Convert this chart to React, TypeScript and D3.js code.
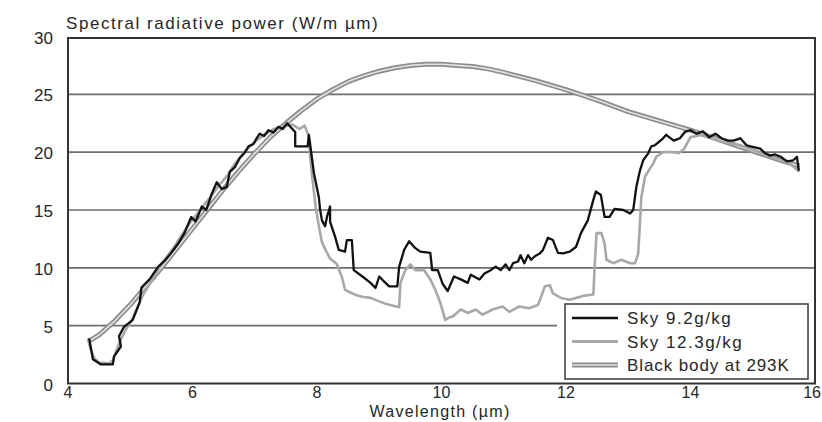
import React from 'react';
import * as d3 from 'd3';

type Pt = [number, number];

// Sky with 9.2 g/kg water vapour (black trace)
const sky92: Pt[] = [
  [4.34, 3.9], [4.4, 2.1], [4.53, 1.65], [4.72, 1.65], [4.74, 2.35], [4.85, 3.2], [4.82, 4.1],
  [4.9, 4.9], [5.04, 5.5], [5.15, 7.0], [5.18, 8.3], [5.31, 9.0], [5.45, 10.1], [5.55, 10.6],
  [5.66, 11.3], [5.77, 12.1], [5.87, 13.0], [5.98, 14.4], [6.05, 14.0], [6.15, 15.3], [6.22, 15.0],
  [6.31, 16.4], [6.39, 17.4], [6.47, 16.8], [6.55, 17.0], [6.6, 18.3], [6.68, 18.7], [6.76, 19.5],
  [6.83, 19.9], [6.9, 20.5], [6.98, 20.7], [7.03, 21.2], [7.08, 21.6], [7.15, 21.4], [7.22, 21.9],
  [7.3, 21.7], [7.38, 22.2], [7.45, 22.0], [7.52, 22.5], [7.65, 21.75], [7.65, 20.5], [7.85, 20.5],
  [7.87, 21.5], [7.95, 18.2], [8.03, 16.1], [8.05, 15.0], [8.08, 14.1], [8.13, 13.6], [8.16, 14.4],
  [8.21, 15.3], [8.21, 14.0], [8.29, 12.7], [8.35, 11.55], [8.45, 11.4], [8.48, 12.4], [8.56, 12.4],
  [8.59, 9.8], [8.73, 9.25], [8.86, 8.7], [8.94, 8.26], [9.0, 9.25], [9.08, 8.8], [9.16, 8.4],
  [9.29, 8.4], [9.32, 10.1], [9.4, 11.55], [9.48, 12.3], [9.58, 11.7], [9.66, 11.4], [9.82, 11.3],
  [9.85, 9.8], [9.94, 9.8], [10.02, 8.6], [10.1, 8.0], [10.2, 9.25], [10.31, 9.0], [10.42, 8.7],
  [10.47, 9.4], [10.61, 9.0], [10.69, 9.5], [10.79, 9.8], [10.87, 10.1], [10.95, 9.8], [11.03, 10.3],
  [11.09, 9.8], [11.15, 10.4], [11.23, 10.55], [11.27, 11.1], [11.33, 10.4], [11.39, 11.1],
  [11.44, 10.7], [11.5, 11.0], [11.58, 11.25], [11.63, 11.55], [11.71, 12.6], [11.79, 12.4],
  [11.87, 11.3], [11.95, 11.25], [12.06, 11.4], [12.16, 11.8], [12.24, 13.0], [12.35, 14.1],
  [12.44, 15.9], [12.48, 16.6], [12.56, 16.3], [12.62, 14.4], [12.7, 14.4], [12.78, 15.1],
  [12.92, 15.0], [13.03, 14.7], [13.08, 15.0], [13.13, 17.0], [13.19, 18.45], [13.24, 19.3],
  [13.32, 19.9], [13.37, 20.5], [13.43, 20.6], [13.56, 21.2], [13.61, 21.5], [13.73, 21.0],
  [13.83, 21.2], [13.91, 21.75], [14.0, 21.9], [14.1, 21.6], [14.2, 21.8], [14.3, 21.3], [14.4, 21.6],
  [14.5, 21.2], [14.6, 21.0], [14.69, 21.0], [14.8, 21.2], [14.9, 20.6], [14.96, 20.5], [15.05, 20.4],
  [15.12, 20.3], [15.2, 19.9], [15.28, 19.7], [15.36, 19.8], [15.45, 19.6], [15.55, 19.2],
  [15.65, 19.3], [15.71, 19.6], [15.74, 18.4],
];

// Sky with 12.3 g/kg water vapour (grey trace)
const sky123: Pt[] = [
  [4.32, 3.9], [4.36, 3.0], [4.42, 2.2], [4.5, 1.8], [4.58, 1.8], [4.65, 1.7], [4.72, 2.0],
  [4.78, 2.9], [4.84, 3.7], [4.93, 4.7], [5.02, 5.4], [5.1, 6.4], [5.2, 7.6], [5.3, 8.5],
  [5.42, 9.6], [5.55, 10.7], [5.68, 11.6], [5.8, 12.6], [5.92, 13.6], [6.05, 14.5], [6.18, 15.4],
  [6.3, 16.2], [6.42, 17.1], [6.55, 17.9], [6.68, 19.0], [6.8, 19.8], [6.92, 20.5], [7.05, 21.1],
  [7.18, 21.6], [7.3, 22.0], [7.45, 22.2], [7.6, 22.4], [7.72, 22.0], [7.8, 22.3], [7.86, 21.5],
  [7.92, 18.0], [7.98, 15.2], [8.03, 13.6], [8.08, 12.2], [8.15, 11.4], [8.21, 10.8], [8.32, 10.3],
  [8.4, 9.2], [8.45, 8.1], [8.56, 7.8], [8.65, 7.6], [8.73, 7.5], [8.86, 7.4], [9.0, 7.1],
  [9.1, 6.9], [9.16, 6.8], [9.32, 6.6], [9.34, 8.7], [9.42, 9.8], [9.5, 10.3], [9.58, 9.8],
  [9.72, 9.8], [9.82, 9.0], [9.9, 8.1], [9.98, 7.0], [10.06, 5.5], [10.12, 5.7], [10.18, 5.8],
  [10.31, 6.4], [10.42, 6.1], [10.55, 6.4], [10.66, 5.95], [10.82, 6.4], [10.98, 6.66],
  [11.09, 6.2], [11.25, 6.66], [11.41, 6.5], [11.55, 6.8], [11.6, 7.5], [11.66, 8.4], [11.74, 8.5],
  [11.79, 7.8], [11.92, 7.4], [12.06, 7.24], [12.16, 7.4], [12.3, 7.6], [12.44, 7.7], [12.46, 10.1],
  [12.49, 13.0], [12.57, 13.0], [12.62, 12.1], [12.65, 10.7], [12.76, 10.4], [12.89, 10.7],
  [13.03, 10.4], [13.11, 10.4], [13.16, 11.25], [13.19, 14.1], [13.21, 16.1], [13.27, 17.9],
  [13.35, 18.6], [13.4, 19.0], [13.45, 19.6], [13.56, 20.0], [13.73, 20.0], [13.81, 19.9],
  [13.9, 20.3], [14.0, 21.3], [14.2, 21.5], [14.5, 20.9], [14.8, 20.6], [15.1, 20.0], [15.4, 19.4],
  [15.6, 19.0], [15.75, 18.3],
];

// Black body at 293K
const blackBody: Pt[] = [
  [4.35, 3.7], [4.5, 4.2], [4.75, 5.4], [5.0, 6.8], [5.25, 8.4], [5.5, 10.0], [5.75, 11.7],
  [6.0, 13.4], [6.25, 15.1], [6.5, 16.8], [6.75, 18.4], [7.0, 19.9], [7.25, 21.3], [7.5, 22.5],
  [7.75, 23.6], [8.0, 24.6], [8.25, 25.4], [8.5, 26.1], [8.75, 26.6], [9.0, 27.0], [9.25, 27.3],
  [9.5, 27.5], [9.75, 27.6], [10.0, 27.6], [10.25, 27.5], [10.5, 27.4], [10.75, 27.2], [11.0, 26.9],
  [11.5, 26.2], [12.0, 25.4], [12.5, 24.5], [13.0, 23.5], [13.5, 22.7], [14.0, 21.9], [14.5, 21.0],
  [15.0, 20.1], [15.5, 19.2], [15.75, 18.8],
];

const xTicks = [4, 6, 8, 10, 12, 14, 16];
const yTicks = [0, 5, 10, 15, 20, 25, 30];
const gridValues = [5, 10, 15, 20, 25];
const legendLabels = ['Sky 9.2g/kg', 'Sky 12.3g/kg', 'Black body at 293K'];

const font = '"Liberation Sans", Arial, Helvetica, sans-serif';
const ink = '#262626';

export default function App() {
  const width = 822;
  const height = 422;
  const plot = { left: 68, right: 815, top: 36.5, bottom: 383.5 };

  const x = d3.scaleLinear().domain([4, 16]).range([plot.left, plot.right]);
  const y = d3.scaleLinear().domain([0, 30]).range([plot.bottom, plot.top]);

  const line = d3.line<Pt>()
    .x(d => x(d[0]))
    .y(d => y(d[1]))
    .curve(d3.curveLinear);

  const legend = { x: 565, y: 304, w: 243, h: 75 };
  const rowY = (i: number) => legend.y + 14 + i * 23.5;

  return (
    <svg
      width={width}
      height={height}
      style={{ position: 'absolute', left: 0, top: 0, background: '#fff', fontFamily: font }}
    >
      {/* title */}
      <text x={66} y={29} fontSize={17} fill={ink} letterSpacing={1.55}>
        Spectral radiative power (W/m µm)
      </text>

      {/* horizontal gridlines, the one at 5 stops before the legend */}
      {gridValues.map(v => (
        <line
          key={v}
          x1={plot.left}
          x2={v === 5 ? 557 : plot.right}
          y1={y(v)}
          y2={y(v)}
          stroke="#6e6e6e"
          strokeWidth={1.6}
        />
      ))}

      {/* frame */}
      <rect
        x={plot.left}
        y={y(30) + 1.5}
        width={plot.right - plot.left}
        height={plot.bottom - y(30) - 1.5}
        fill="none"
        stroke="#333"
        strokeWidth={2}
      />

      {/* y tick labels */}
      {yTicks.map(v => (
        <text
          key={v}
          x={53}
          y={y(v) + 1.5}
          textAnchor="end"
          dominantBaseline="central"
          fontSize={17}
          fill={ink}
        >
          {v}
        </text>
      ))}

      {/* x tick labels */}
      {xTicks.map(v => (
        <text
          key={v}
          x={v === 16 ? 821 : x(v)}
          y={398}
          textAnchor={v === 16 ? 'end' : 'middle'}
          fontSize={16}
          fill={ink}
        >
          {v}
        </text>
      ))}
      <text x={440} y={417} textAnchor="middle" fontSize={16} fill={ink} letterSpacing={1.3}>
        Wavelength (µm)
      </text>

      {/* black body: double line */}
      <path d={line(blackBody) || ''} fill="none" stroke="#8c8c8c" strokeWidth={5} strokeLinejoin="round" />
      <path d={line(blackBody) || ''} fill="none" stroke="#e2e2e2" strokeWidth={1.6} strokeLinejoin="round" />

      {/* sky 12.3 g/kg */}
      <path d={line(sky123) || ''} fill="none" stroke="#a8a8a8" strokeWidth={2.6} strokeLinejoin="round" />

      {/* sky 9.2 g/kg */}
      <path d={line(sky92) || ''} fill="none" stroke="#111" strokeWidth={2.3} strokeLinejoin="round" />

      {/* legend */}
      <rect x={legend.x} y={legend.y} width={legend.w} height={legend.h} fill="#fff" stroke="#444" strokeWidth={1.6} />
      <line x1={572} x2={618} y1={rowY(0)} y2={rowY(0)} stroke="#111" strokeWidth={2.4} />
      <line x1={572} x2={618} y1={rowY(1)} y2={rowY(1)} stroke="#a8a8a8" strokeWidth={2.8} />
      <line x1={572} x2={618} y1={rowY(2)} y2={rowY(2)} stroke="#8c8c8c" strokeWidth={5} />
      <line x1={572} x2={618} y1={rowY(2)} y2={rowY(2)} stroke="#e2e2e2" strokeWidth={1.6} />
      {legendLabels.map((t, i) => (
        <text
          key={t}
          x={627}
          y={rowY(i) + 6}
          fontSize={17}
          fill={ink}
          letterSpacing={i === 2 ? 0.9 : 1.5}
        >
          {t}
        </text>
      ))}
    </svg>
  );
}
